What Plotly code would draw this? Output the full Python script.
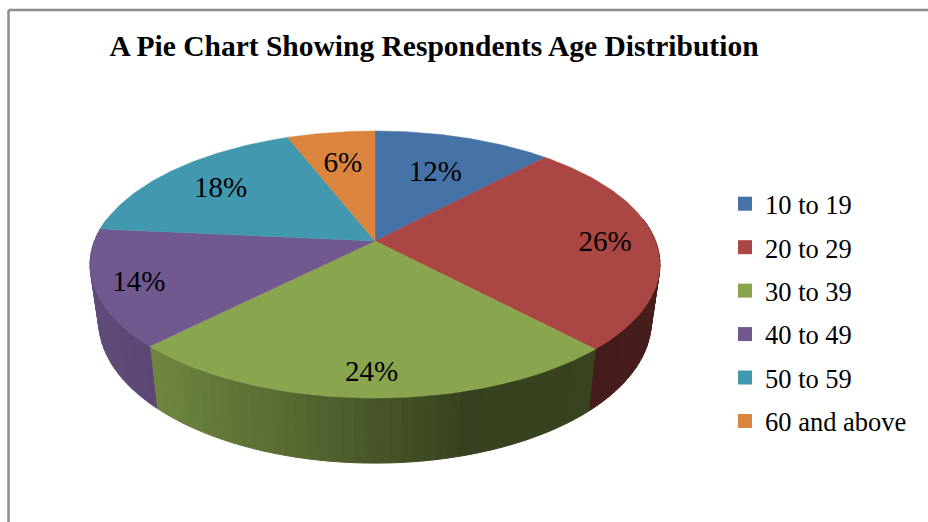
import numpy as np
import plotly.graph_objects as go

CATEGORIES = ["10 to 19", "20 to 29", "30 to 39", "40 to 49", "50 to 59", "60 and above"]
SHARES = [12.0, 26.0, 24.4, 14.1, 17.6, 5.9]
TITLE = "A Pie Chart Showing Respondents Age Distribution"

COLORS = ["#4572A7", "#AA4643", "#89A54E", "#71588F", "#4198AF", "#DB843D"]
LABEL_RADIUS = [0.645, 0.82, 0.85, 0.85, 0.745, 0.70]
LABEL_DROP = 3
FONT = "Liberation Serif"

# Projection of the tilted disc on to the plot's pixel-sized axes
CX, CY, A, B, K = 375, 241, 280.5, 129.4, 0.176
BASE_CY, BASE_A, BASE_B = 296, 272, 137.7


def top(theta, r=1.0):
    u, v = r * np.sin(theta), r * np.cos(theta)
    w = 1 + K * v
    return CX + A * u / w, CY - B * v / w


def base(theta):
    u, v = np.sin(theta), np.cos(theta)
    w = 1 + K * v
    return CX + BASE_A * u / w, BASE_CY - BASE_B * v / w


def shade(color, f):
    rgb = [int(color[i:i + 2], 16) for i in (1, 3, 5)]
    return "rgb({},{},{})".format(*[int(c * f) for c in rgb])


edges = np.radians(np.concatenate([[0], np.cumsum(SHARES)]) * 3.6)
fig = go.Figure()

# Side wall, in narrow strips so that the shading can change around the rim
SIDE_FROM, SIDE_TO = np.radians(80), np.radians(280)
for i, name in enumerate(CATEGORIES):
    lo, hi = max(edges[i], SIDE_FROM), min(edges[i + 1], SIDE_TO)
    if hi <= lo:
        continue
    n = max(1, int(np.degrees(hi - lo) / 2))
    cuts = np.linspace(lo, hi, n + 1)
    for a, b in zip(cuts[:-1], cuts[1:]):
        t = np.linspace(a, b, 3)
        tx, ty = top(t)
        bx, by = base(t[::-1])
        f = float(np.interp(np.sin((a + b) / 2), [-1, -0.68, -0.27, 0.27, 1],
                            [0.86, 0.81, 0.65, 0.40, 0.42]))
        col = shade(COLORS[i], f)
        fig.add_trace(go.Scatter(
            x=np.concatenate([tx, bx, tx[:1]]), y=np.concatenate([ty, by, ty[:1]]),
            mode="lines", fill="toself", fillcolor=col, line=dict(color=col, width=1),
            hoverinfo="skip", showlegend=False))

# Top face
for i, name in enumerate(CATEGORIES):
    t = np.linspace(edges[i], edges[i + 1], 80)
    x, y = top(t)
    fig.add_trace(go.Scatter(
        x=np.concatenate([[CX], x, [CX]]), y=np.concatenate([[CY], y, [CY]]),
        mode="lines", fill="toself", fillcolor=COLORS[i],
        line=dict(color=COLORS[i], width=0.5), name=name, showlegend=False,
        hovertemplate=f"{name}: {SHARES[i]:.0f}%<extra></extra>"))

# Percentage labels
mids = (edges[:-1] + edges[1:]) / 2
lx, ly = top(mids, np.array(LABEL_RADIUS))
fig.add_trace(go.Scatter(
    x=lx, y=ly + LABEL_DROP, mode="text", text=[f"{s:.0f}%" for s in SHARES],
    textposition="middle center", textfont=dict(family=FONT, size=29, color="#000000"),
    hoverinfo="skip", showlegend=False))

# Legend entries
for i, name in enumerate(CATEGORIES):
    fig.add_trace(go.Scatter(
        x=[None], y=[None], mode="markers", name=name, legendgroup=name,
        marker=dict(symbol="square", size=14, color=COLORS[i])))

fig.update_layout(
    width=928, height=522, margin=dict(l=0, r=0, t=0, b=0),
    paper_bgcolor="white", plot_bgcolor="white",
    title=dict(text=f"<b>{TITLE}</b>", x=434 / 928, y=1 - 46 / 522, xanchor="center",
               yanchor="middle", font=dict(family=FONT, size=29.5, color="#000000")),
    xaxis=dict(range=[0, 928], visible=False, fixedrange=True),
    yaxis=dict(range=[522, 0], visible=False, fixedrange=True),
    legend=dict(x=725 / 928, y=1 - 180 / 522, xanchor="left", yanchor="top",
                font=dict(family=FONT, size=26.5, color="#000000"),
                tracegroupgap=6, bgcolor="rgba(0,0,0,0)"),
    shapes=[
        dict(type="line", xref="paper", yref="paper", x0=8.5 / 928, x1=8.5 / 928, y0=0,
             y1=1 - 10 / 522, line=dict(color="#8c8c8c", width=2.5)),
        dict(type="line", xref="paper", yref="paper", x0=8.5 / 928, x1=1, y0=1 - 10 / 522,
             y1=1 - 10 / 522, line=dict(color="#8c8c8c", width=2.5)),
    ],
)
fig.write_html("out.html", config={"displayModeBar": False},
               post_script="document.body.style.margin='0';")
